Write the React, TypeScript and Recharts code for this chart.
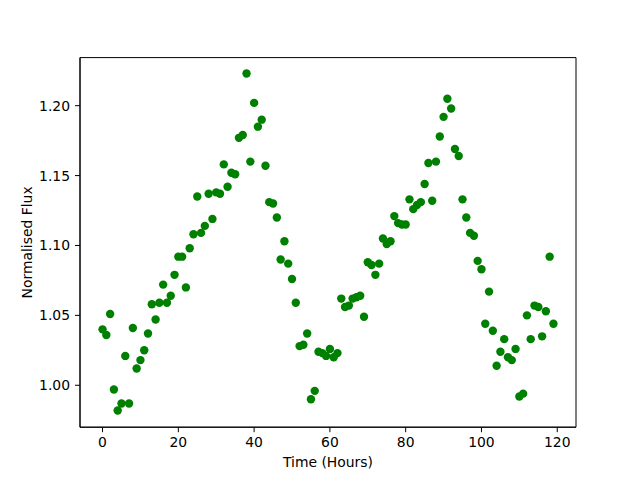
import { ScatterChart, Scatter, XAxis, YAxis, ReferenceArea, Label } from 'recharts';

const hours = [
  0, 1, 2, 3, 4, 5, 6, 7, 8, 9, 10, 11, 12, 13, 14, 15, 16, 17, 18, 19,
  20, 21, 22, 23, 24, 25, 26, 27, 28, 29, 30, 31, 32, 33, 34, 35, 36, 37, 38, 39,
  40, 41, 42, 43, 44, 45, 46, 47, 48, 49, 50, 51, 52, 53, 54, 55, 56, 57, 58, 59,
  60, 61, 62, 63, 64, 65, 66, 67, 68, 69, 70, 71, 72, 73, 74, 75, 76, 77, 78, 79,
  80, 81, 82, 83, 84, 85, 86, 87, 88, 89, 90, 91, 92, 93, 94, 95, 96, 97, 98, 99,
  100, 101, 102, 103, 104, 105, 106, 107, 108, 109, 110, 111, 112, 113, 114, 115, 116, 117, 118, 119,
];

const flux = [
  1.040, 1.036, 1.051, 0.997, 0.982, 0.987, 1.021, 0.987, 1.041, 1.012,
  1.018, 1.025, 1.037, 1.058, 1.047, 1.059, 1.072, 1.059, 1.064, 1.079,
  1.092, 1.092, 1.070, 1.098, 1.108, 1.135, 1.109, 1.114, 1.137, 1.119,
  1.138, 1.137, 1.158, 1.142, 1.152, 1.151, 1.177, 1.179, 1.223, 1.160,
  1.202, 1.185, 1.190, 1.157, 1.131, 1.130, 1.120, 1.090, 1.103, 1.087,
  1.076, 1.059, 1.028, 1.029, 1.037, 0.990, 0.996, 1.024, 1.023, 1.021,
  1.026, 1.020, 1.023, 1.062, 1.056, 1.057, 1.062, 1.063, 1.064, 1.049,
  1.088, 1.086, 1.079, 1.087, 1.105, 1.101, 1.103, 1.121, 1.116, 1.115,
  1.115, 1.133, 1.126, 1.129, 1.131, 1.144, 1.159, 1.132, 1.160, 1.178,
  1.192, 1.205, 1.198, 1.169, 1.164, 1.133, 1.120, 1.109, 1.107, 1.089,
  1.083, 1.044, 1.067, 1.039, 1.014, 1.024, 1.033, 1.020, 1.018, 1.026,
  0.992, 0.994, 1.050, 1.033, 1.057, 1.056, 1.035, 1.053, 1.092, 1.044,
];

const xTicks = [0, 20, 40, 60, 80, 100, 120];
const yTicks = [1.0, 1.05, 1.1, 1.15, 1.2];

const X_DOMAIN: [number, number] = [-5.95, 124.95];
const Y_DOMAIN: [number, number] = [0.97, 1.2344];

const data = hours.map((h, i) => ({ hour: h, flux: flux[i] }));

const FONT = 'DejaVu Sans, sans-serif';
const tickStyle = { fill: '#000', fontSize: 13.9, fontFamily: FONT };

// matplotlib-ish round marker
const Dot = (props: any) => <circle cx={props.cx} cy={props.cy} r={4.2} fill="#008000" />;

export default function App() {
  return (
    <div style={{ position: 'absolute', left: 0, top: 0, width: 640, height: 480, background: '#fff', fontFamily: FONT }}>
      <ScatterChart width={640} height={480} margin={{ top: 57.6, right: 64, bottom: 12.8, left: 20 }}>
        <XAxis
          type="number"
          dataKey="hour"
          domain={X_DOMAIN}
          ticks={xTicks}
          allowDataOverflow
          height={40}
          stroke="#000"
          tickSize={5}
          tickMargin={5}
          tick={tickStyle}
          tickLine={{ stroke: '#000' }}
        >
          <Label value="Time (Hours)" position="insideBottom" offset={0} style={{ fill: '#000', fontSize: 13.9, fontFamily: FONT }} />
        </XAxis>
        <YAxis
          type="number"
          dataKey="flux"
          domain={Y_DOMAIN}
          ticks={yTicks}
          allowDataOverflow
          width={60}
          stroke="#000"
          tickSize={5}
          tickMargin={5}
          tick={tickStyle}
          tickLine={{ stroke: '#000' }}
          tickFormatter={(v: number) => v.toFixed(2)}
        >
          <Label
            value="Normalised Flux"
            angle={-90}
            position="insideLeft"
            offset={7}
            style={{ fill: '#000', fontSize: 13.9, fontFamily: FONT, textAnchor: 'middle' }}
          />
        </YAxis>
        <ReferenceArea
          x1={X_DOMAIN[0]}
          x2={X_DOMAIN[1]}
          y1={Y_DOMAIN[0]}
          y2={Y_DOMAIN[1]}
          fill="none"
          stroke="#000"
          strokeWidth={1}
          ifOverflow="extendDomain"
        />
        <Scatter data={data} fill="#008000" shape={Dot} isAnimationActive={false} />
      </ScatterChart>
    </div>
  );
}
